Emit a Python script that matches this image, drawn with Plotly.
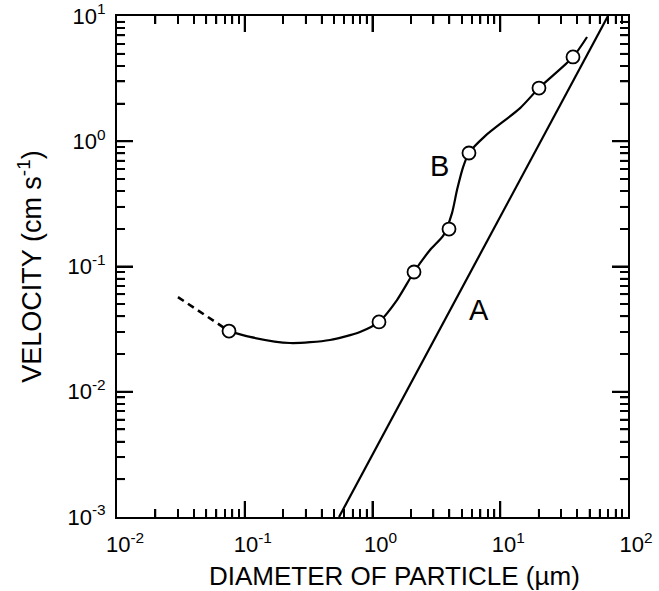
import plotly.graph_objects as go

# Curve B (smooth fit through the observations), solid part
b_diam = [0.0753, 0.110, 0.226, 0.465, 0.798, 1.124, 1.555, 2.113, 2.82, 3.6,
          4.19, 4.60, 5.15, 5.69, 7.60, 14.3, 20.1, 37.1, 47.8]
b_vel = [0.0305, 0.0274, 0.0245, 0.0259, 0.030, 0.0361, 0.054, 0.0904, 0.1354, 0.178,
         0.267, 0.413, 0.633, 0.806, 1.10, 1.84, 2.66, 4.71, 6.80]

# Curve B, dashed extrapolation at small diameters
b_dash_diam = [0.030, 0.0753]
b_dash_vel = [0.057, 0.0305]

# Observed points (open circles)
obs_diam = [0.0753, 1.124, 2.113, 3.97, 5.69, 20.1, 37.1]
obs_vel = [0.0305, 0.0361, 0.0904, 0.199, 0.806, 2.66, 4.71]

# Line A
a_diam = [0.547, 69.7]
a_vel = [0.001, 10.0]

decades = [-2, -1, 0, 1, 2]
x_tickvals = [10.0 ** d for d in decades]
x_ticktext = ["10<sup>%d</sup>" % d for d in decades]
y_decades = [-3, -2, -1, 0, 1]
y_tickvals = [10.0 ** d for d in y_decades]
y_ticktext = ["10<sup>%d</sup>" % d for d in y_decades]

def minor_vals(decs):
    out = []
    for d in decs[:-1]:
        for m in range(2, 10):
            out.append(m * 10.0 ** d)
    return out

FONT = "Liberation Sans, Arial, sans-serif"
MAJ_LEN, MIN_LEN = 16, 8

fig = go.Figure()
fig.add_trace(go.Scatter(x=a_diam, y=a_vel, mode="lines",
                         line=dict(color="black", width=2.2), hoverinfo="skip"))
fig.add_trace(go.Scatter(x=b_dash_diam, y=b_dash_vel, mode="lines",
                         line=dict(color="black", width=2.6, dash="7px,5px"), hoverinfo="skip"))
fig.add_trace(go.Scatter(x=b_diam, y=b_vel, mode="lines",
                         line=dict(color="black", width=2.2, shape="spline", smoothing=0.7),
                         hoverinfo="skip"))
fig.add_trace(go.Scatter(x=obs_diam, y=obs_vel, mode="markers",
                         marker=dict(symbol="circle", size=13, color="white",
                                     line=dict(color="black", width=1.8)),
                         hoverinfo="skip"))

axis_common = dict(
    type="log", showgrid=False, zeroline=False,
    showline=True, linecolor="black", linewidth=2, mirror="allticks",
    ticks="inside", ticklen=MAJ_LEN, tickwidth=2, tickcolor="black",
    tickmode="array", ticklabeloverflow="allow",
    tickfont=dict(family=FONT, size=22, color="black"),
)

fig.update_xaxes(**axis_common, range=[-2, 2],
                 tickvals=x_tickvals, ticktext=x_ticktext,
                 ticklabelstandoff=7, ticklabelshift=8,
                 minor=dict(tickmode="array", tickvals=minor_vals(decades),
                            ticks="inside", ticklen=MIN_LEN, tickwidth=1.6, tickcolor="black",
                            showgrid=False))
fig.update_yaxes(**axis_common, range=[-3, 1],
                 tickvals=y_tickvals, ticktext=y_ticktext, ticklabelstandoff=5,
                 minor=dict(tickmode="array", tickvals=minor_vals(y_decades),
                            ticks="inside", ticklen=MIN_LEN, tickwidth=1.6, tickcolor="black",
                            showgrid=False),
                 title=dict(text="VELOCITY (cm s<sup>-1</sup>)",
                            font=dict(family=FONT, size=27, color="black"), standoff=18))

# Inside tick marks on all four sides (drawn explicitly so they always show)
shapes = []
def add_x_ticks(vals, length, width):
    for v in vals:
        for anchor, sign in ((0, 1), (1, -1)):
            shapes.append(dict(type="line", xref="x", yref="paper", x0=v, x1=v,
                               ysizemode="pixel", yanchor=anchor, y0=0, y1=sign * length,
                               line=dict(color="black", width=width), layer="above"))
def add_y_ticks(vals, length, width):
    for v in vals:
        for anchor, sign in ((0, 1), (1, -1)):
            shapes.append(dict(type="line", yref="y", xref="paper", y0=v, y1=v,
                               xsizemode="pixel", xanchor=anchor, x0=0, x1=sign * length,
                               line=dict(color="black", width=width), layer="above"))
add_x_ticks(x_tickvals[1:-1], MAJ_LEN, 2)
add_x_ticks(minor_vals(decades), MIN_LEN, 1.6)
add_y_ticks(y_tickvals[1:-1], MAJ_LEN, 2)
add_y_ticks(minor_vals(y_decades), MIN_LEN, 1.6)

# x-axis title
fig.add_annotation(x=0.544, y=0, xref="paper", yref="paper", yanchor="middle",
                   yshift=-59, text="DIAMETER OF PARTICLE (µm)", showarrow=False,
                   font=dict(family=FONT, size=26, color="black"))

fig.add_annotation(x=0.834, y=-1.347, xref="x", yref="y", text="A", showarrow=False,
                   font=dict(family=FONT, size=29, color="black"))
fig.add_annotation(x=0.528, y=-0.198, xref="x", yref="y", text="B", showarrow=False,
                   font=dict(family=FONT, size=29, color="black"))

fig.update_layout(
    width=659, height=591,
    margin=dict(l=117, r=31, t=16, b=74, autoexpand=False),
    paper_bgcolor="white", plot_bgcolor="white",
    showlegend=False, hovermode=False, shapes=shapes,
)

fig.write_html("out.html", config={"displayModeBar": False},
               post_script="document.body.style.margin='0';document.body.style.overflow='hidden';")
